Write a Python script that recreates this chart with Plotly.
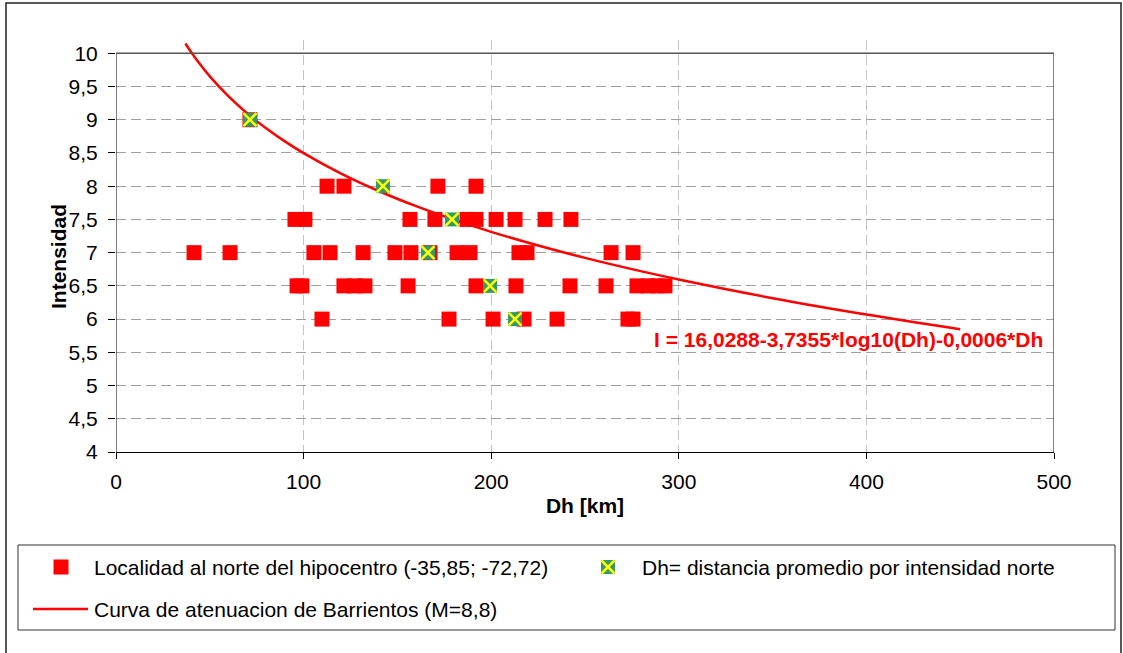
import plotly.graph_objects as go

# ---------------- data ----------------
# Localities north of the hypocentre: distance Dh [km] and intensity
dh_north = [71.4,
            112.5, 121.5, 171.6, 191.9,
            95.4, 100.7, 156.7, 170.0, 187.1, 191.9, 202.6, 212.7, 228.7, 242.5,
            41.6, 60.8, 105.5, 114.1, 131.7, 148.7, 157.2, 167.4, 181.8, 188.7,
            214.8, 219.1, 263.9, 275.6,
            96.5, 99.1, 121.5, 127.4, 132.7, 155.7, 191.9, 213.2, 242.0, 261.2,
            277.7, 283.6, 288.4, 292.6,
            109.8, 177.5, 201.0, 217.5, 235.1, 272.9, 275.6]
int_north = [9,
             8, 8, 8, 8,
             7.5, 7.5, 7.5, 7.5, 7.5, 7.5, 7.5, 7.5, 7.5, 7.5,
             7, 7, 7, 7, 7, 7, 7, 7, 7, 7,
             7, 7, 7, 7,
             6.5, 6.5, 6.5, 6.5, 6.5, 6.5, 6.5, 6.5, 6.5, 6.5,
             6.5, 6.5, 6.5, 6.5,
             6, 6, 6, 6, 6, 6, 6]

# Average distance per intensity
dh_avg = [71.4, 142.3, 179.1, 166.3, 199.4, 212.7]
int_avg = [9, 8, 7.5, 7, 6.5, 6]

# Barrientos attenuation curve (M=8,8)
curve_dh = [37, 40, 45, 50, 60, 70, 80, 90, 100, 120, 140, 160, 180, 200,
            225, 250, 275, 300, 350, 400, 450]
curve_int = [10.148, 10.020, 9.826, 9.652, 9.351, 9.094, 8.872, 8.675, 8.498,
             8.190, 7.928, 7.699, 7.496, 7.313, 7.107, 6.921, 6.752, 6.596,
             6.315, 6.069, 5.848]

y_ticks = [4, 4.5, 5, 5.5, 6, 6.5, 7, 7.5, 8, 8.5, 9, 9.5, 10]
x_ticks = [0, 100, 200, 300, 400, 500]

legend_north = "Localidad al norte del hipocentro (-35,85; -72,72)"
legend_avg = "Dh= distancia promedio por intensidad norte"
legend_curve = "Curva de atenuacion de Barrientos (M=8,8)"
equation = "I = 16,0288-3,7355*log10(Dh)-0,0006*Dh"
x_title = "Dh [km]"
y_title = "Intensidad"

# ---------------- figure ----------------
W, H = 1123, 653
FONT = "Liberation Sans, Arial, sans-serif"
RED = "#FF0000"
GREEN = "#339966"
YELLOW = "#FFFF00"


def px(x):
    return x / W


def py(y):
    return 1 - y / H


fig = go.Figure()

fig.add_trace(go.Scatter(
    x=curve_dh, y=curve_int, mode="lines", line=dict(color=RED, width=2.5, shape="spline"),
    name=legend_curve, showlegend=False, hoverinfo="skip"))

fig.add_trace(go.Scatter(
    x=dh_north, y=int_north, mode="markers",
    marker=dict(symbol="square", size=15, color=RED, line=dict(width=0)),
    name=legend_north, showlegend=False))

fig.add_trace(go.Scatter(
    x=dh_avg, y=int_avg, mode="markers",
    marker=dict(symbol="square", size=14, color=GREEN, line=dict(width=0)),
    name=legend_avg, showlegend=False))
fig.add_trace(go.Scatter(
    x=dh_avg, y=int_avg, mode="markers",
    marker=dict(symbol="x-thin", size=13, color=YELLOW, line=dict(width=2.5, color=YELLOW)),
    showlegend=False, hoverinfo="skip"))

tick_font = dict(family=FONT, size=21, color="black")
title_font = dict(family=FONT, size=21, color="black")

fig.update_xaxes(
    domain=[px(116), px(1054)], range=[0, 500], tickvals=x_ticks,
    ticks="outside", ticklen=6, tickcolor="black", tickwidth=1,
    showline=True, linecolor="black", linewidth=1,
    showgrid=True, gridcolor="#c4c4c4", griddash="10px,5px", gridwidth=1,
    zeroline=False, tickfont=tick_font, ticklabelstandoff=5, automargin=False,
    title=dict(text="<b>" + x_title + "</b>", font=title_font, standoff=6),
)
fig.update_yaxes(
    domain=[py(452), py(40)], range=[4, 10.2], tickvals=y_ticks,
    ticks="outside", ticklen=7, tickcolor="black", tickwidth=1,
    showline=False, showgrid=True, gridcolor="#a0a0a0", griddash="10px,5px", gridwidth=1,
    zeroline=False, tickfont=tick_font, ticklabelstandoff=6, automargin=False,
)

shapes = []
# plot area: left axis line, top and right border
shapes.append(dict(type="line", xref="x", yref="y", x0=0, x1=0, y0=4, y1=10,
                   line=dict(color="black", width=1)))
shapes.append(dict(type="line", xref="x", yref="y", x0=0, x1=500, y0=10, y1=10,
                   line=dict(color="#555555", width=1.5)))
shapes.append(dict(type="line", xref="x", yref="y", x0=500, x1=500, y0=4, y1=10,
                   line=dict(color="#555555", width=1.5)))
# outer chart border
shapes.append(dict(type="rect", xref="paper", yref="paper", x0=px(6), x1=px(1121),
                   y0=py(700), y1=py(3), line=dict(color="#222222", width=1.5)))
# legend box
shapes.append(dict(type="rect", xref="paper", yref="paper", x0=px(18), x1=px(1115),
                   y0=py(630), y1=py(545), line=dict(color="#333333", width=1)))
# legend symbols
shapes.append(dict(type="rect", xref="paper", yref="paper", x0=px(53.5), x1=px(68.5),
                   y0=py(574.5), y1=py(559.5), fillcolor=RED, line=dict(width=0)))
shapes.append(dict(type="rect", xref="paper", yref="paper", x0=px(601), x1=px(615),
                   y0=py(574), y1=py(560), fillcolor=GREEN, line=dict(width=0)))
shapes.append(dict(type="line", xref="paper", yref="paper", x0=px(601.5), x1=px(614.5),
                   y0=py(573.5), y1=py(560.5), line=dict(color=YELLOW, width=2.5)))
shapes.append(dict(type="line", xref="paper", yref="paper", x0=px(601.5), x1=px(614.5),
                   y0=py(560.5), y1=py(573.5), line=dict(color=YELLOW, width=2.5)))
shapes.append(dict(type="line", xref="paper", yref="paper", x0=px(33), x1=px(88),
                   y0=py(609), y1=py(609), line=dict(color=RED, width=2.5)))

legend_font = dict(family=FONT, size=21, color="black")
annotations = [
    dict(xref="paper", yref="paper", x=px(58), y=py(257), xanchor="center", yanchor="middle",
         text="<b>" + y_title + "</b>", textangle=-90, showarrow=False, font=title_font),
    dict(xref="paper", yref="paper", x=px(92), y=py(567), xanchor="left", yanchor="middle",
         text=legend_north, showarrow=False, font=legend_font),
    dict(xref="paper", yref="paper", x=px(640), y=py(567), xanchor="left", yanchor="middle",
         text=legend_avg, showarrow=False, font=legend_font),
    dict(xref="paper", yref="paper", x=px(92), y=py(609), xanchor="left", yanchor="middle",
         text=legend_curve, showarrow=False, font=legend_font),
    dict(xref="x", yref="y", x=495, y=5.70, xanchor="right", yanchor="middle",
         text="<b>" + equation + "</b>", showarrow=False,
         font=dict(family=FONT, size=21, color=RED)),
]

fig.update_layout(
    width=W, height=H, margin=dict(l=0, r=0, t=0, b=0, autoexpand=False),
    paper_bgcolor="white", plot_bgcolor="white",
    separators=", ", showlegend=False,
    shapes=shapes, annotations=annotations,
    font=dict(family=FONT, color="black"),
)

fig.write_html(
    "out.html",
    post_script="document.body.style.margin='0px';document.body.style.overflow='hidden';",
)
